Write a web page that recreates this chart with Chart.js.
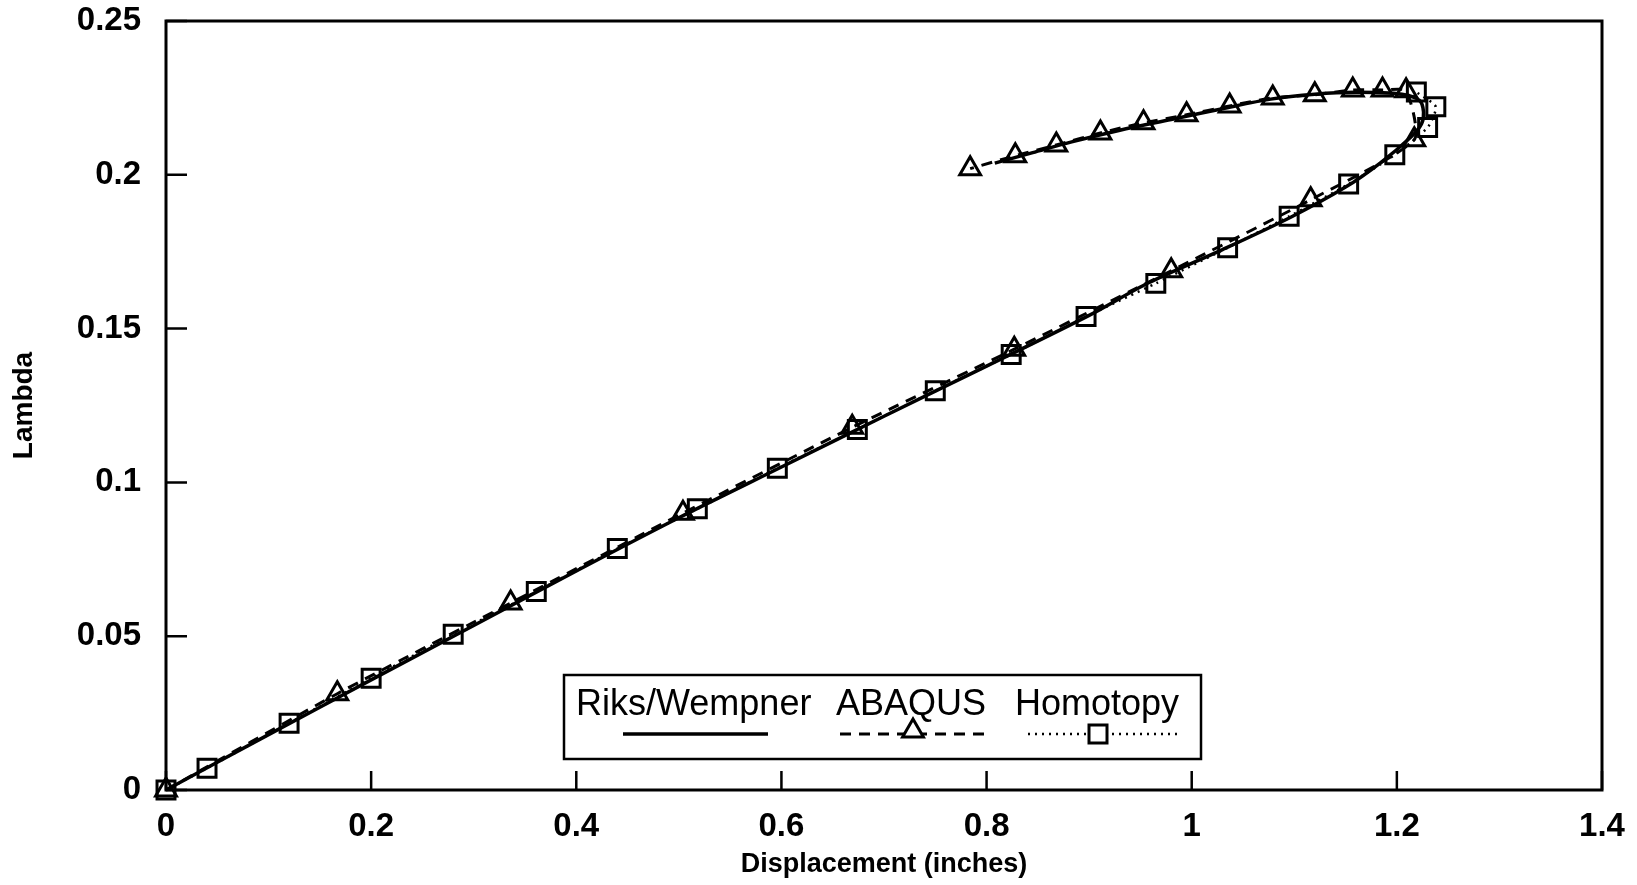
<!DOCTYPE html>
<html>
<head>
<meta charset="utf-8">
<script src="https://cdn.jsdelivr.net/npm/chart.js@4/dist/chart.umd.min.js"></script>
<style>
  html, body { margin: 0; padding: 0; background: #fff; }
  canvas { display: block; }
</style>
</head>
<body>
<canvas id="chart" width="1637" height="885"></canvas>
<script>
// Riks/Wempner (solid, no markers)
const riksX = [0, 0.1, 0.2, 0.3, 0.4, 0.5, 0.6, 0.7, 0.8, 0.9, 0.958, 1.03, 1.097, 1.15, 1.184, 1.214, 1.224, 1.226, 1.222, 1.205, 1.16, 1.12, 1.077, 1.03, 0.98, 0.93, 0.883, 0.845, 0.808];
const riksY = [0, 0.018, 0.0358, 0.0535, 0.0712, 0.0885, 0.105, 0.1215, 0.1378, 0.1543, 0.1649, 0.1757, 0.1863, 0.196, 0.2039, 0.2124, 0.2165, 0.2205, 0.2242, 0.2262, 0.2268, 0.2262, 0.2246, 0.2215, 0.218, 0.2145, 0.2107, 0.2072, 0.2038];

// ABAQUS (dashed, triangles)
const abaqusX = [0, 0.167, 0.336, 0.504, 0.669, 0.827, 0.98, 1.116, 1.217, 1.209, 1.186, 1.157, 1.12, 1.079, 1.037, 0.995, 0.953, 0.911, 0.868, 0.828, 0.784];
const abaqusY = [0, 0.0313, 0.0608, 0.09, 0.1179, 0.1433, 0.1688, 0.1919, 0.2114, 0.2273, 0.2276, 0.2276, 0.226, 0.225, 0.2224, 0.2195, 0.2169, 0.2136, 0.2097, 0.2062, 0.202];

// Homotopy (dotted, squares)
const homotopyX = [0, 0.04, 0.12, 0.2, 0.28, 0.361, 0.44, 0.518, 0.596, 0.674, 0.75, 0.824, 0.897, 0.965, 1.035, 1.095, 1.153, 1.198, 1.23, 1.238, 1.219];
const homotopyY = [0, 0.0071, 0.0217, 0.0363, 0.0506, 0.0645, 0.0785, 0.0914, 0.1046, 0.1172, 0.1298, 0.1416, 0.1539, 0.1647, 0.1763, 0.1865, 0.197, 0.2065, 0.2154, 0.2221, 0.2269];

const xTickValues = [0, 0.2, 0.4, 0.6, 0.8, 1, 1.2, 1.4];
const yTickValues = [0, 0.05, 0.1, 0.15, 0.2, 0.25];
const seriesNames = ["Riks/Wempner", "ABAQUS", "Homotopy"];

const FONT = "'Liberation Sans', Arial, Helvetica, sans-serif";
const pts = (xs, ys) => xs.map((x, i) => ({x: x, y: ys[i]}));
const fmt = v => String(+(+v).toFixed(2));

// frame, inward tick marks and the boxed legend
const framePlugin = {
    id: "frame",
    afterDraw(chart) {
        const ctx = chart.ctx;
        const a = chart.chartArea;
        const xs = chart.scales.x, ys = chart.scales.y;
        ctx.save();
        ctx.strokeStyle = "#000";
        ctx.lineWidth = 3;
        ctx.strokeRect(a.left, a.top, a.right - a.left, a.bottom - a.top);
        ctx.lineWidth = 2.5;
        ctx.beginPath();
        xs.ticks.forEach(t => {
            const px = xs.getPixelForValue(t.value);
            ctx.moveTo(px, a.bottom); ctx.lineTo(px, a.bottom - 19);
        });
        ys.ticks.forEach(t => {
            const py = ys.getPixelForValue(t.value);
            ctx.moveTo(a.left, py); ctx.lineTo(a.left + 21, py);
        });
        ctx.stroke();

        // legend box
        const bx = a.left + 398, by = a.bottom - 115, bw = 637, bh = 84;
        ctx.fillStyle = "#fff";
        ctx.fillRect(bx, by, bw, bh);
        ctx.lineWidth = 2.5;
        ctx.strokeRect(bx, by, bw, bh);
        ctx.fillStyle = "#000";
        ctx.font = "36px " + FONT;
        ctx.textBaseline = "middle";
        ctx.textAlign = "left";
        const textX = [bx + 12, bx + 272, bx + 451];
        seriesNames.forEach((n, i) => ctx.fillText(n, textX[i], by + 30));

        const ly = by + 59;
        ctx.lineWidth = 3.5;
        ctx.beginPath(); ctx.moveTo(bx + 59, ly); ctx.lineTo(bx + 204, ly); ctx.stroke();

        ctx.setLineDash([11, 8]);
        ctx.lineWidth = 3;
        ctx.beginPath(); ctx.moveTo(bx + 276, ly); ctx.lineTo(bx + 422, ly); ctx.stroke();
        ctx.setLineDash([2, 5]);
        ctx.lineWidth = 2.5;
        ctx.beginPath(); ctx.moveTo(bx + 464, ly); ctx.lineTo(bx + 613, ly); ctx.stroke();
        ctx.setLineDash([]);

        ctx.lineWidth = 3;
        ctx.fillStyle = "#fff";
        Chart.helpers.drawPoint(ctx, {pointStyle: "triangle", radius: 12, borderWidth: 3}, bx + 349, ly - 3);
        ctx.fillRect(bx + 534 - 9, ly - 9, 18, 18);
        ctx.strokeRect(bx + 534 - 9, ly - 9, 18, 18);
        ctx.restore();
    }
};

new Chart(document.getElementById("chart"), {
    type: "scatter",
    data: {
        datasets: [
            {
                label: seriesNames[0],
                data: pts(riksX, riksY),
                showLine: true,
                clip: false,
                borderColor: "#000",
                borderWidth: 3.5,
                tension: 0.3,
                pointRadius: 0
            },
            {
                label: seriesNames[1],
                data: pts(abaqusX, abaqusY),
                showLine: true,
                clip: false,
                borderColor: "#000",
                borderWidth: 3,
                borderDash: [11, 8],
                tension: 0.2,
                pointStyle: "triangle",
                pointRadius: 12,
                pointBorderWidth: 3,
                pointBorderColor: "#000",
                pointBackgroundColor: "rgba(0,0,0,0)"
            },
            {
                label: seriesNames[2],
                data: pts(homotopyX, homotopyY),
                showLine: true,
                clip: false,
                borderColor: "#000",
                borderWidth: 2.5,
                borderDash: [2, 5],
                tension: 0.2,
                pointStyle: "rect",
                pointRadius: 12.7,
                pointBorderWidth: 3,
                pointBorderColor: "#000",
                pointBackgroundColor: "rgba(0,0,0,0)"
            }
        ]
    },
    options: {
        responsive: false,
        animation: false,
        devicePixelRatio: 1,
        layout: { autoPadding: false, padding: { top: 21, right: 35, bottom: 0, left: 0 } },
        plugins: { legend: { display: false }, tooltip: { enabled: false } },
        scales: {
            x: {
                type: "linear",
                min: 0,
                max: 1.4,
                afterBuildTicks: s => { s.ticks = xTickValues.map(v => ({value: v})); },
                afterFit: s => { s.height = 95; s.paddingLeft = 0; s.paddingRight = 0; },
                grid: { display: false, drawTicks: false },
                border: { display: false },
                ticks: {
                    padding: 17,
                    color: "#000",
                    font: { family: FONT, size: 33, weight: "bold" },
                    maxRotation: 0,
                    callback: fmt
                },
                title: {
                    display: true,
                    text: "Displacement (inches)",
                    color: "#000",
                    font: { family: FONT, size: 27, weight: "bold" },
                    padding: { top: 0, bottom: 4 }
                }
            },
            y: {
                type: "linear",
                min: 0,
                max: 0.25,
                afterBuildTicks: s => { s.ticks = yTickValues.map(v => ({value: v})); },
                afterFit: s => { s.width = 166; s.paddingTop = 0; s.paddingBottom = 0; },
                grid: { display: false, drawTicks: false },
                border: { display: false },
                ticks: {
                    padding: 25,
                    color: "#000",
                    font: { family: FONT, size: 33, weight: "bold" },
                    callback: fmt
                },
                title: {
                    display: true,
                    text: "Lambda",
                    color: "#000",
                    font: { family: FONT, size: 28, weight: "bold" },
                    padding: { top: 7, bottom: 0 }
                }
            }
        }
    },
    plugins: [framePlugin]
});
</script>
</body>
</html>
